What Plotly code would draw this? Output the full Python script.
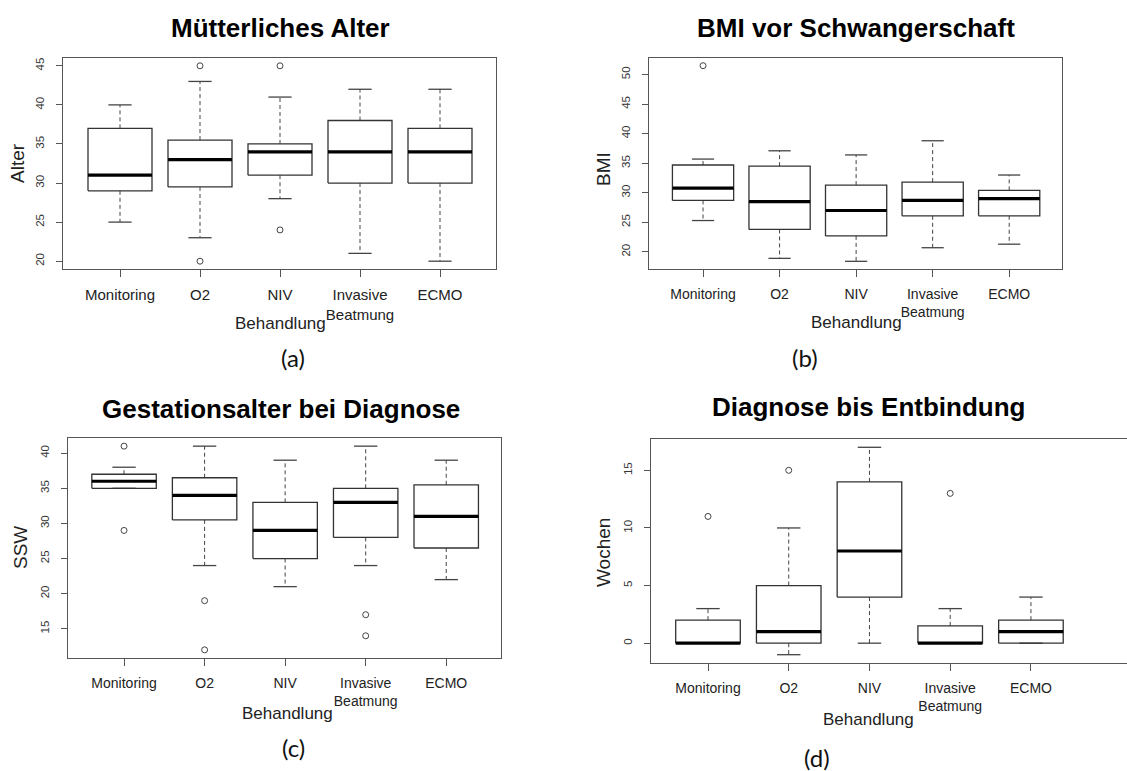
import plotly.graph_objects as go

W, H = 1127, 771

# ---------------- data ----------------
categories = ["Monitoring", "O2", "NIV", "Invasive<br>Beatmung", "ECMO"]

# (a) Mütterliches Alter
alter_lo = [25, 23, 28, 21, 20]
alter_q1 = [29, 29.5, 31, 30, 30]
alter_med = [31, 33, 34, 34, 34]
alter_q3 = [37, 35.5, 35, 38, 37]
alter_hi = [40, 43, 41, 42, 42]
alter_out = [[], [45, 20], [45, 24], [], []]
alter_ticks = [20, 25, 30, 35, 40, 45]

# (b) BMI vor Schwangerschaft
bmi_lo = [25.3, 18.9, 18.4, 20.7, 21.3]
bmi_q1 = [28.7, 23.8, 22.7, 26.1, 26.1]
bmi_med = [30.8, 28.5, 27.0, 28.7, 29.0]
bmi_q3 = [34.7, 34.5, 31.3, 31.8, 30.4]
bmi_hi = [35.7, 37.1, 36.4, 38.8, 33.0]
bmi_out = [[51.5], [], [], [], []]
bmi_ticks = [20, 25, 30, 35, 40, 45, 50]

# (c) Gestationsalter bei Diagnose
ssw_lo = [35, 24, 21, 24, 22]
ssw_q1 = [35, 30.5, 25, 28, 26.5]
ssw_med = [36, 34, 29, 33, 31]
ssw_q3 = [37, 36.5, 33, 35, 35.5]
ssw_hi = [38, 41, 39, 41, 39]
ssw_out = [[41, 29], [19, 12], [], [17, 14], []]
ssw_ticks = [15, 20, 25, 30, 35, 40]

# (d) Diagnose bis Entbindung
woch_lo = [0, -1, 0, 0, 0]
woch_q1 = [0, 0, 4, 0, 0]
woch_med = [0, 1, 8, 0, 1]
woch_q3 = [2, 5, 14, 1.5, 2]
woch_hi = [3, 10, 17, 3, 4]
woch_out = [[11], [15], [], [13], []]
woch_ticks = [0, 5, 10, 15]

titles = ["Mütterliches Alter", "BMI vor Schwangerschaft",
          "Gestationsalter bei Diagnose", "Diagnose bis Entbindung"]
ylabels = ["Alter", "BMI", "SSW", "Wochen"]
xlabel = "Behandlung"
panel_tags = ["(a)", "(b)", "(c)", "(d)"]

# ---------------- layout (pixel geometry) ----------------
panels = [
    dict(stats=(alter_lo, alter_q1, alter_med, alter_q3, alter_hi, alter_out), ticks=alter_ticks,
         px=(63, 496), py=(58, 269), xr=(0.2875, 5.70), yr=(19, 46), tfs=15,
         title=(280, 28), ylab=(17, 163), xlab=(280, 323), tag=(293, 357), mirror_y=True),
    dict(stats=(bmi_lo, bmi_q1, bmi_med, bmi_q3, bmi_hi, bmi_out), ticks=bmi_ticks,
         px=(649, 1062), py=(58, 269), xr=(0.294, 5.69), yr=(17.1, 52.8), tfs=14,
         title=(856, 28), ylab=(603, 169), xlab=(856, 322), tag=(805, 357), mirror_y=True),
    dict(stats=(ssw_lo, ssw_q1, ssw_med, ssw_q3, ssw_hi, ssw_out), ticks=ssw_ticks,
         px=(68, 501), py=(438, 658), xr=(0.304, 5.68), yr=(10.84, 42.16), tfs=14,
         title=(281, 409), ylab=(20, 548), xlab=(287, 713), tag=(293, 747), mirror_y=True),
    dict(stats=(woch_lo, woch_q1, woch_med, woch_q3, woch_hi, woch_out), ticks=woch_ticks,
         px=(651, 1127), py=(439, 663), xr=(0.294, 6.19), yr=(-1.72, 17.72), tfs=14,
         title=(868, 407), ylab=(603, 552), xlab=(869, 719), tag=(817, 757), mirror_y=False),
]

BOX_HW = 0.4
CAP_HW = 0.145

def px2x(p):
    return p / W

def py2y(p):
    return 1 - p / H

fig = go.Figure()
annotations = []
layout = {}

for k, p in enumerate(panels):
    n = "" if k == 0 else str(k + 1)
    xref, yref = "x" + n, "y" + n
    lo, q1, med, q3, hi, out = p["stats"]
    pos = list(range(1, len(categories) + 1))

    bx, by, mx, my, wx, wy, cx, cy, ox, oy = [], [], [], [], [], [], [], [], [], []
    for i, c in enumerate(pos):
        bx += [c - BOX_HW, c + BOX_HW, c + BOX_HW, c - BOX_HW, c - BOX_HW, None]
        by += [q1[i], q1[i], q3[i], q3[i], q1[i], None]
        mx += [c - BOX_HW, c + BOX_HW, None]
        my += [med[i], med[i], None]
        wx += [c, c, None, c, c, None]
        wy += [q3[i], hi[i], None, q1[i], lo[i], None]
        cx += [c - CAP_HW, c + CAP_HW, None, c - CAP_HW, c + CAP_HW, None]
        cy += [hi[i], hi[i], None, lo[i], lo[i], None]
        for v in out[i]:
            ox.append(c)
            oy.append(v)

    fig.add_trace(go.Scatter(x=wx, y=wy, mode="lines", xaxis=xref, yaxis=yref,
                             line=dict(color="#444", width=1, dash="4px,3px"),
                             hoverinfo="skip", showlegend=False))
    fig.add_trace(go.Scatter(x=cx, y=cy, mode="lines", xaxis=xref, yaxis=yref,
                             line=dict(color="#444", width=1.3),
                             hoverinfo="skip", showlegend=False))
    fig.add_trace(go.Scatter(x=bx, y=by, mode="lines", xaxis=xref, yaxis=yref,
                             line=dict(color="#333", width=1.3),
                             hoverinfo="skip", showlegend=False))
    fig.add_trace(go.Scatter(x=mx, y=my, mode="lines", xaxis=xref, yaxis=yref,
                             line=dict(color="#000", width=3.2),
                             hoverinfo="skip", showlegend=False))
    fig.add_trace(go.Scatter(x=ox, y=oy, mode="markers", xaxis=xref, yaxis=yref,
                             marker=dict(symbol="circle-open", size=6, color="#444",
                                         line=dict(width=1, color="#444")),
                             hoverinfo="skip", showlegend=False))

    layout["xaxis" + n] = dict(
        domain=[px2x(p["px"][0]), px2x(p["px"][1])], range=list(p["xr"]),
        anchor=yref, tickmode="array", tickvals=pos, ticktext=categories,
        showgrid=False, zeroline=False, showline=True, mirror=True,
        linecolor="#555", linewidth=1.3, ticks="outside", ticklen=7,
        tickcolor="#555", tickwidth=1.2, ticklabelstandoff=5,
        tickfont=dict(family="Liberation Sans, Arial", size=p["tfs"], color="#222"),
    )
    layout["yaxis" + n] = dict(
        domain=[py2y(p["py"][1]), py2y(p["py"][0])], range=list(p["yr"]),
        anchor=xref, tickmode="array", tickvals=p["ticks"],
        showgrid=False, zeroline=False, showline=True, mirror=p["mirror_y"],
        linecolor="#555", linewidth=1.3, ticks="outside", ticklen=6,
        tickcolor="#555", tickwidth=1.2, tickangle=-90, ticklabelstandoff=7,
        tickfont=dict(family="Liberation Sans, Arial", size=11.5, color="#333"),
    )

    annotations.append(dict(text="<b>%s</b>" % titles[k], x=px2x(p["title"][0]), y=py2y(p["title"][1]),
                            xref="paper", yref="paper", xanchor="center", yanchor="middle",
                            showarrow=False, font=dict(family="Liberation Sans, Arial", size=26, color="#000")))
    annotations.append(dict(text=ylabels[k], x=px2x(p["ylab"][0]), y=py2y(p["ylab"][1]),
                            xref="paper", yref="paper", xanchor="center", yanchor="middle",
                            textangle=-90, showarrow=False,
                            font=dict(family="Liberation Sans, Arial", size=19, color="#222")))
    annotations.append(dict(text=xlabel, x=px2x(p["xlab"][0]), y=py2y(p["xlab"][1]),
                            xref="paper", yref="paper", xanchor="center", yanchor="middle",
                            showarrow=False, font=dict(family="Liberation Sans, Arial", size=17, color="#222")))
    annotations.append(dict(text=panel_tags[k], x=px2x(p["tag"][0]), y=py2y(p["tag"][1]),
                            xref="paper", yref="paper", xanchor="center", yanchor="middle",
                            showarrow=False, font=dict(family="Lato, Open Sans", size=24, color="#111")))

fig.update_layout(
    width=W, height=H, margin=dict(l=0, r=0, t=0, b=0),
    paper_bgcolor="white", plot_bgcolor="white",
    annotations=annotations, showlegend=False, **layout,
)

fig.write_html("out.html")
